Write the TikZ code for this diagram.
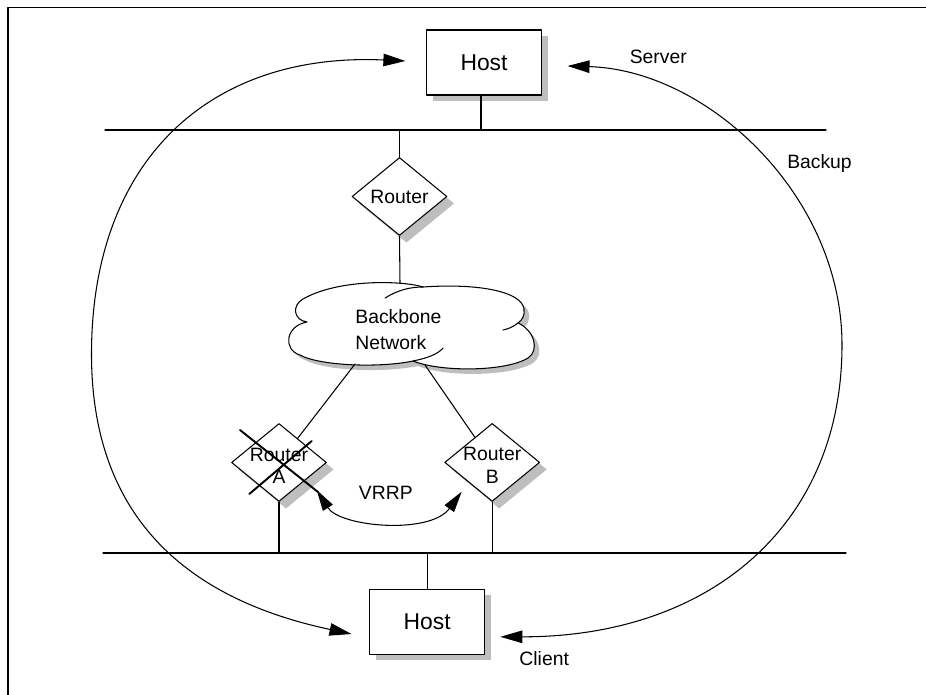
\documentclass[tikz,border=0pt]{standalone}
\usepackage{fontspec}
\setmainfont{Liberation Sans}
\usetikzlibrary{arrows.meta,shapes.geometric}

\begin{document}
\begin{tikzpicture}[x=0.2mm, y=-0.2mm, line cap=round, line join=round,
  wire/.style={line width=0.6pt},
  lbl/.style={font=\fontsize{11}{13}\selectfont, inner sep=0pt},
  shade box/.style={preaction={fill=shadowgray, draw=none, transform canvas={shift={(1.2mm,-1.2mm)}}}},
  hostbox/.style={shade box, draw, line width=0.7pt, fill=white, minimum width=23mm, minimum height=13mm,
    font=\fontsize{13}{15}\selectfont},
  router/.style={diamond, draw, line width=0.6pt, fill=white, minimum width=19mm,
    minimum height=15.6mm, inner sep=0pt, font=\fontsize{11}{13}\selectfont},
  arc/.style={line width=0.6pt, {Triangle[length=4.4mm,width=2.5mm]}-{Triangle[length=4.4mm,width=2.5mm]}},
  vrrp/.style={line width=0.6pt, {Triangle[length=4.2mm,width=2.3mm]}-{Triangle[length=4.2mm,width=2.3mm]}}]
  \definecolor{shadowgray}{RGB}{190,190,190}
  \useasboundingbox (0,0) rectangle (926,695);
  \draw[wire] (8,695) -- (8,7.5) -- (926,7.5);

  \coordinate (bust1) at (105,130);
  \coordinate (bust2) at (826,130);
  \coordinate (busb1) at (103,553);
  \coordinate (busb2) at (846,553);
  \coordinate (cloudtop) at (400,283);
  \coordinate (cloudsw) at (355,364);
  \coordinate (cloudse) at (425,365);

  \foreach \cx/\cy in {399.5/196.5, 279/462.5, 492.2/462.4}
    \fill[shadowgray] ({\cx+7},{\cy-32}) -- ({\cx+54.5},{\cy+7})
      -- ({\cx+7},{\cy+46}) -- ({\cx-40.5},{\cy+7}) -- cycle;

  \node[hostbox] (toph) at (484,62.5) {Host};
  \node[hostbox] (both) at (427.2,621.8) {Host};
  \node[router] (rt) at (399.5,196.5) {Router};
  \node[router, label={[lbl, align=center, font=\fontsize{11}{12.8}\selectfont, shift={(0,-0.7mm)}]center:{Router\\A}}] (ra) at (279,462.5) {};
  \node[router, label={[lbl, align=center, font=\fontsize{11}{12.6}\selectfont, shift={(0,-0.6mm)}]center:{Router\\B}}] (rb) at (492.2,462.4) {};

  \foreach \d/\col in {5/shadowgray, 0/white}
    \fill[\col, shift={(\d,\d)}] (423,287) .. controls (405,281) and (340,278) .. (303,299)
      .. controls (292,305) and (293,320) .. (307,322)
      .. controls (285,326) and (283,350) .. (300,355)
      .. controls (320,366) and (380,368) .. (413,361)
      .. controls (440,372) and (505,372) .. (528,358)
      .. controls (540,350) and (534,330) .. (518,323)
      .. controls (522,320) and (525,316) .. (524,309)
      .. controls (522,292) and (480,283) .. (423,287) -- cycle;
  \draw[wire] (423,287) .. controls (405,281) and (340,278) .. (303,299)
    .. controls (292,305) and (293,320) .. (307,322)
    .. controls (285,326) and (283,350) .. (300,355)
    .. controls (320,366) and (380,368) .. (413,361)
    .. controls (428,358) and (438,354) .. (443,348);
  \draw[wire] (385,298) .. controls (398,290) and (410,287) .. (423,287)
    .. controls (480,283) and (522,292) .. (524,309)
    .. controls (525,316) and (522,320) .. (518,323)
    .. controls (513,327) and (508,329) .. (503,330);
  \draw[wire] (518,323) .. controls (534,330) and (540,350) .. (528,358)
    .. controls (505,372) and (440,372) .. (413,361);
  \node[lbl, align=left, font=\fontsize{11}{15.1}\selectfont] (bbn) at (398.4,329.5) {Backbone\\Network};

  \draw[wire] (bust1) -- (bust2);
  \draw[wire] (busb1) -- (busb2);
  \draw[wire] ([xshift=-0.6mm]toph.south) -- ([xshift=-0.6mm]toph.south |- bust1);
  \draw[line width=1pt] (rt.north) -- (rt.north |- bust1);
  \draw[wire] (rt.south) -- (cloudtop);
  \draw[wire] (cloudsw) -- (ra);
  \draw[wire] (cloudse) -- (rb);
  \draw[wire] (ra.south) -- (ra.south |- busb1);
  \draw[wire] (rb.south) -- (rb.south |- busb1);
  \draw[wire] (both.north) -- (both.north |- busb1);

  \draw[line width=1.1pt] ([shift={(-39,-32.5)}]ra.center) -- ([shift={(39,29.5)}]ra.center);
  \draw[line width=1.1pt] ([shift={(-29.7,31.5)}]ra.center) -- ([shift={(32.7,-21.5)}]ra.center);
  \draw[vrrp] ([shift={(37.7,27.5)}]ra.center) .. controls (340,527) and (430,535) .. ([shift={(-30.5,29.3)}]rb.center);

  \draw[arc] ([shift={(-20.5,-1.5)}]toph.west) .. controls (210,52) and (91.5,160) .. (91.5,354)
    .. controls (91.5,524) and (195,600.7) .. ([shift={(-17.6,12.2)}]both.west);
  \draw[arc] ([shift={(25.4,3.5)}]toph.east) .. controls (707,70) and (842,195) .. (842,345)
    .. controls (842,525) and (710,637) .. ([shift={(15,15)}]both.east);

  \node[lbl, anchor=base] (srv) at (658.3,63.3) {Server};
  \node[lbl, anchor=base] (bkp) at (819.5,168.3) {Backup};
  \node[lbl, anchor=base] (clt) at (544.2,665.7) {Client};
  \node[lbl, anchor=base] (vr) at (385.8,499.3) {VRRP};
\end{tikzpicture}
\end{document}
